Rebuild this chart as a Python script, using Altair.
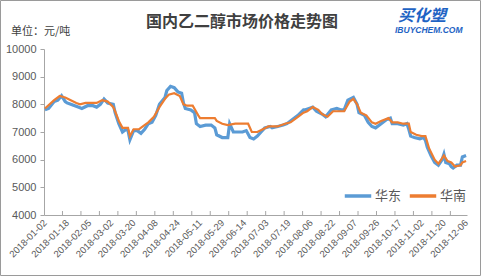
import altair as alt
import pandas as pd

# ---- data ----
date_labels = ["2018-01-02", "2018-01-18", "2018-02-05", "2018-03-02", "2018-03-20",
               "2018-04-08", "2018-04-24", "2018-05-11", "2018-05-29", "2018-06-14",
               "2018-07-03", "2018-07-19", "2018-08-06", "2018-08-22", "2018-09-07",
               "2018-09-26", "2018-10-17", "2018-11-02", "2018-11-20", "2018-12-06"]
label_idx = [0, 12, 24, 36, 48, 60, 72, 84, 96, 108, 120, 132, 144, 156, 168,
             180, 192, 204, 216, 228]
n_days = 229

east_idx = [0, 2, 5, 7, 9, 11, 12, 14, 18, 20, 23, 26, 28, 30, 32, 34, 37, 38, 40, 42,
            44, 45, 46, 48, 50, 52, 54, 56, 58, 60, 62, 65, 66, 68, 70, 72, 74, 75, 76, 79,
            81, 82, 84, 87, 90, 92, 93, 96, 99, 100, 102, 104, 107, 109, 111, 113, 115, 117, 119, 122,
            123, 126, 129, 131, 134, 137, 140, 141, 143, 145, 147, 150, 152, 155, 158, 160, 162, 164, 167, 169,
            170, 173, 175, 177, 179, 182, 185, 187, 188, 191, 194, 196, 197, 198, 200, 203, 205, 206, 207, 209,
            211, 213, 215, 216, 217, 219, 220, 221, 223, 225, 226, 228]
east_val = [7800, 7850, 8100, 8150, 8310, 8100, 8050, 8000, 7900, 7850, 7950, 7950, 7900, 8000, 8190, 8050, 8000, 7700, 7300, 7000,
            7100, 7050, 6720, 7050, 7050, 6950, 7100, 7300, 7350, 7600, 8000, 8250, 8500, 8650, 8600, 8450, 8400, 8050, 7850, 7800,
            7700, 7300, 7200, 7250, 7250, 7150, 6900, 6800, 6800, 7300, 7000, 7000, 7000, 7050, 6800, 6750, 6850, 7000, 7150, 7200,
            7150, 7200, 7250, 7300, 7450, 7600, 7800, 7800, 7850, 7900, 7750, 7650, 7550, 7800, 7850, 7800, 7800, 8150, 8250, 8000,
            7700, 7600, 7350, 7200, 7150, 7300, 7450, 7500, 7300, 7300, 7250, 7300, 7100, 6850, 6800, 6750, 6800, 6700, 6450, 6150,
            5900, 5800, 6000, 6200, 5900, 5850, 5750, 5700, 5800, 5800, 6100, 6150]

south_idx = [0, 5, 8, 11, 14, 17, 19, 22, 25, 28, 31, 34, 37, 38, 40, 42, 45, 46, 48, 51,
             53, 56, 59, 62, 65, 67, 70, 73, 75, 77, 80, 83, 84, 88, 92, 93, 96, 99, 103, 106,
             110, 112, 115, 118, 121, 123, 126, 130, 133, 137, 140, 142, 145, 148, 150, 153, 156, 159, 162, 165,
             167, 169, 171, 174, 177, 179, 182, 186, 188, 191, 194, 197, 198, 201, 204, 206, 208, 211, 213, 215,
             216, 218, 220, 222, 225, 226, 228]
south_val = [7850, 8150, 8300, 8250, 8150, 8050, 8000, 8050, 8050, 8050, 8150, 8100, 7900, 7750, 7400, 7150, 7150, 6850, 7100, 7100,
             7200, 7350, 7550, 7900, 8200, 8350, 8400, 8300, 8000, 7950, 7950, 7600, 7500, 7500, 7500, 7400, 7300, 7250, 7300, 7300,
             7300, 7000, 7000, 7100, 7200, 7200, 7200, 7300, 7350, 7550, 7700, 7750, 7900, 7800, 7650, 7550, 7750, 7750, 7750, 8100,
             8200, 8000, 7700, 7600, 7350, 7300, 7400, 7500, 7350, 7350, 7300, 7300, 7000, 6900, 6850, 6850, 6400, 6000, 5850, 6050,
             6150, 5950, 5900, 5750, 5800, 5900, 5950]

series_names = ["华东", "华南"]
title_text = "国内乙二醇市场价格走势图"
unit_text = "单位：元/吨"
logo_cn = "买化塑"
logo_en = "IBUYCHEM.COM"

# ---- build tables ----
df = pd.concat([
    pd.DataFrame({"day": east_idx, "price": east_val, "series": series_names[0]}),
    pd.DataFrame({"day": south_idx, "price": south_val, "series": series_names[1]}),
])
tick_df = pd.DataFrame({"pos": [k * 10 - 0.5 for k in range(1, 23)]})
one = pd.DataFrame({"a": [0]})

W, H = 423, 166
AXIS = "#a6a6a6"
TXT = "#595959"
BLUE = "#5b9bd5"
ORANGE = "#ed7d31"

xscale = alt.Scale(domain=[-0.5, n_days - 0.5], nice=False, zero=False)
yscale = alt.Scale(domain=[4000, 10000], nice=False, zero=False)
cscale = alt.Scale(domain=series_names, range=[BLUE, ORANGE])

label_arr = "[" + ",".join("'%s'" % d for d in date_labels) + "]"

xaxis = alt.Axis(values=label_idx, labelExpr=label_arr + "[round(datum.value/12)]",
                 labelAngle=315, labelAlign="right", labelBaseline="middle",
                 labelFontSize=9.5, labelColor=TXT, labelFont="Liberation Sans",
                 ticks=False, labelPadding=6, grid=False, domainColor=AXIS,
                 title=None, labelOverlap=False, labelFlush=False, labelBound=False)
yaxis = alt.Axis(values=[4000, 5000, 6000, 7000, 8000, 9000, 10000], grid=False, format="d",
                 tickSize=4, tickColor=AXIS, domainColor=AXIS, labelPadding=4,
                 labelFontSize=11, labelColor=TXT, labelFont="Liberation Sans", title=None)

legend = alt.Legend(orient="none", legendX=299, legendY=132, direction="horizontal",
                    title=None, symbolType="stroke", symbolSize=700, symbolStrokeWidth=3.5,
                    labelFontSize=13, labelFont="Noto Sans CJK SC", labelColor=TXT,
                    columnPadding=0, labelOffset=2, padding=0, symbolOffset=0)

base = alt.Chart(df).encode(
    x=alt.X("day:Q", scale=xscale, axis=xaxis),
    y=alt.Y("price:Q", scale=yscale, axis=yaxis),
    color=alt.Color("series:N", scale=cscale, legend=legend),
)
east_line = base.transform_filter(alt.datum.series == series_names[0]).mark_line(strokeWidth=3.2)
south_line = base.transform_filter(alt.datum.series == series_names[1]).mark_line(strokeWidth=2.2)

ticks = alt.Chart(tick_df).mark_rule(color=AXIS, strokeWidth=1).encode(
    x=alt.X("pos:Q", scale=xscale, axis=xaxis), y=alt.value(H - 4), y2=alt.value(H))

title = alt.Chart(one).mark_text(fontSize=16, fontWeight="bold", font="Noto Sans CJK SC",
                                 color="#404040", align="center", baseline="middle").encode(
    x=alt.value(198), y=alt.value(-27), text=alt.value(title_text))
unit = alt.Chart(one).mark_text(fontSize=11, font="Noto Sans CJK SC", color="#404040",
                                align="left", baseline="middle").encode(
    x=alt.value(-33), y=alt.value(-17), text=alt.value(unit_text))
logo1 = alt.Chart(one).mark_text(fontSize=16, fontWeight="bold", fontStyle="italic",
                                 font="Noto Sans CJK SC", color="#1e63c4",
                                 align="left", baseline="middle").encode(
    x=alt.value(354), y=alt.value(-33), text=alt.value(logo_cn))
logo2 = alt.Chart(one).mark_text(fontSize=8.5, fontWeight="bold", fontStyle="italic",
                                 font="Liberation Sans", color="#1e63c4",
                                 align="left", baseline="middle").encode(
    x=alt.value(351), y=alt.value(-19), text=alt.value(logo_en))
frame = alt.Chart(one).mark_rect(fillOpacity=0, stroke="#9a9a9a", strokeWidth=1).encode(
    x=alt.value(-43.5), x2=alt.value(436.5), y=alt.value(-48.5), y2=alt.value(226.5))

chart = alt.layer(ticks, east_line, south_line, title, unit, logo1, logo2, frame).properties(
    width=W, height=H,
    autosize=alt.AutoSizeParams(type="none"),
    padding={"left": 44, "top": 49, "right": 15, "bottom": 62},
    background="white",
).configure_view(stroke=None)

chart.save("out.html", embed_options={"renderer": "svg", "actions": False})
